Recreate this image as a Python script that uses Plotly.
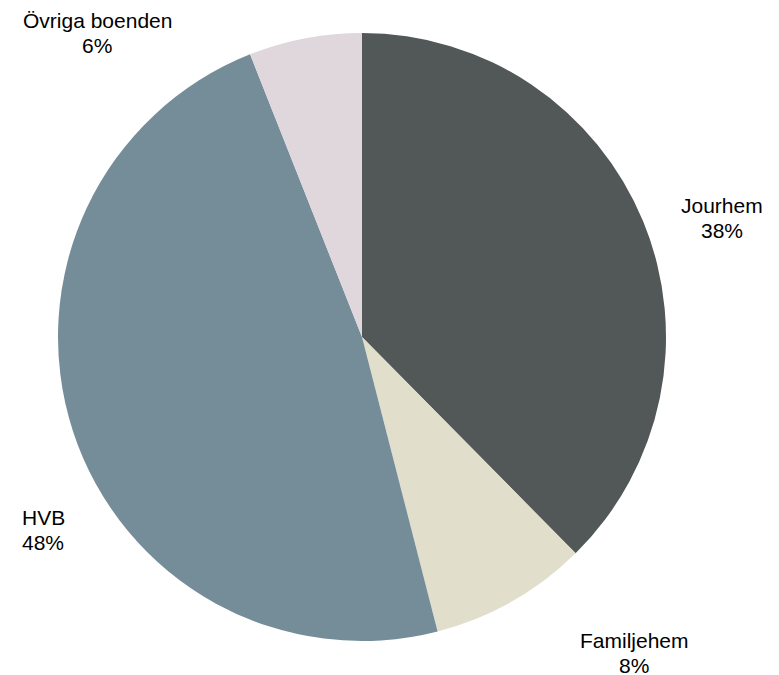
import plotly.graph_objects as go

labels = ["Jourhem", "Familjehem", "HVB", "Övriga boenden"]
values = [37.6, 8.4, 48.0, 6.0]
colors = ["#525757", "#E1DFCC", "#758C99", "#E0D7DD"]

# label placement (pixel positions of label blocks) - style only
label_pos = [(722, 218, "center"), (634, 653, "center"), (21, 530, "left"), (97, 33, "center")]
LINE_GAP = 25
FONT_SIZE = 21

W, H = 779, 675
CX, CY, R = 362, 337, 304

fig = go.Figure(go.Pie(
    labels=labels,
    values=values,
    sort=False,
    direction="clockwise",
    rotation=0,
    marker=dict(colors=colors, line=dict(width=0)),
    textinfo="none",
    hoverinfo="label+percent",
    showlegend=False,
    domain=dict(x=[(CX - R) / W, (CX + R) / W], y=[(H - CY - R) / H, (H - CY + R) / H]),
))

total = sum(values)
annotations = []
for lab, val, (px, py, al) in zip(labels, values, label_pos):
    pct = round(val / total * 100)
    for line, dy in ((lab, -LINE_GAP / 2), (f"{pct}%", LINE_GAP / 2)):
        annotations.append(dict(
            x=px / W, y=1 - (py + dy) / H, xref="paper", yref="paper",
            xanchor="left" if al == "left" else "center", yanchor="middle",
            align=al, showarrow=False, text=line, borderpad=0,
            font=dict(family="Liberation Sans, Arial, sans-serif", size=FONT_SIZE, color="#000000"),
        ))

fig.update_layout(
    width=W, height=H,
    margin=dict(l=0, r=0, t=0, b=0),
    paper_bgcolor="white",
    plot_bgcolor="white",
    annotations=annotations,
)
fig.write_html("out.html", config={"displayModeBar": False},
               post_script="document.body.style.margin='0';")
